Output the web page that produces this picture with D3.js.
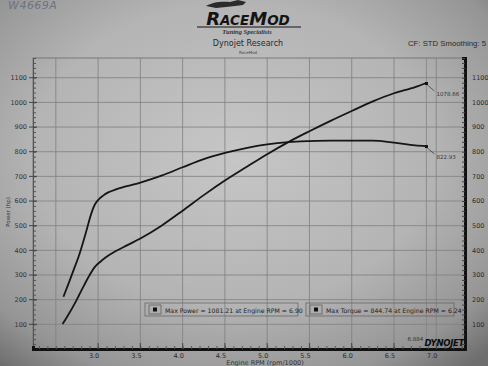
<!DOCTYPE html>
<html><head><meta charset="utf-8">
<script src="https://cdn.jsdelivr.net/npm/d3@7"></script>
<style>body{margin:0;background:#a8a8a8;}svg{display:block}</style>
</head><body>
<svg id="c" width="488" height="366"></svg>
<script>
// ---- data ----
const powerRpm = [2.58,2.65,2.72,2.78,2.84,2.90,2.96,3.03,3.10,3.20,3.34,3.50,3.75,4.00,4.25,4.50,4.75,5.00,5.25,5.50,5.75,6.00,6.25,6.50,6.75,6.884];
const powerHp  = [101,140,182,222,262,300,332,355,374,395,420,448,500,561,624,683,737,790,839,883,925,965,1004,1037,1062,1078.66];
const torqueRpm = [2.59,2.65,2.71,2.77,2.82,2.87,2.92,2.96,3.00,3.06,3.12,3.22,3.34,3.50,3.75,4.00,4.25,4.50,4.75,5.00,5.25,5.50,5.75,6.00,6.24,6.50,6.75,6.884];
const torqueFt  = [212,265,320,375,430,490,550,585,604,622,635,648,660,675,703,737,770,795,815,830,839,843,845,845,844.74,837,826,822.93];
const xTickLabels = [3.0,3.5,4.0,4.5,5.0,5.5,6.0,6.5,7.0];
const xGrid = [2.5,3.0,3.5,4.0,4.5,5.0,5.5,6.0,6.5,7.0];
const yTickLabels = [100,200,300,400,500,600,700,800,900,1000,1100];
const endLabels = ["1078.66","822.93"];
const legendTexts = ["Max Power = 1081.21 at Engine RPM = 6.90","Max Torque = 844.74 at Engine RPM = 6.24"];
const cursorRpm = 6.884;

const svg = d3.select("#c");
const W = 488, H = 366;
const L = 33, R = 465, T = 58, B = 349;

// background paper with photo lighting
const defs = svg.append("defs");
const rg = defs.append("radialGradient").attr("id","bg").attr("cx","0.48").attr("cy","0.42").attr("r","0.75");
rg.append("stop").attr("offset","0").attr("stop-color","#c6c6c6");
rg.append("stop").attr("offset","0.55").attr("stop-color","#b4b4b4");
rg.append("stop").attr("offset","0.85").attr("stop-color","#959595");
rg.append("stop").attr("offset","1").attr("stop-color","#6e6e6e");
svg.append("rect").attr("width",W).attr("height",H).attr("fill","url(#bg)");

const x = d3.scaleLinear().domain([2.23,7.34]).range([L,R]);
const y = d3.scaleLinear().domain([0,1180]).range([B,T]);

// grid
const g = svg.append("g");
g.selectAll(".vg").data(xGrid).join("line")
  .attr("x1",d=>x(d)).attr("x2",d=>x(d)).attr("y1",T).attr("y2",B)
  .attr("stroke","#7f7f7f").attr("stroke-width",0.8);
g.selectAll(".hg").data(yTickLabels).join("line")
  .attr("x1",L).attr("x2",R).attr("y1",d=>y(d)).attr("y2",d=>y(d))
  .attr("stroke","#7f7f7f").attr("stroke-width",0.8);
// cursor line
g.append("line").attr("x1",x(cursorRpm)).attr("x2",x(cursorRpm)).attr("y1",T).attr("y2",B)
  .attr("stroke","#858585").attr("stroke-width",0.8);

// frame
svg.append("rect").attr("x",L).attr("y",T).attr("width",R-L).attr("height",B-T)
  .attr("fill","none").attr("stroke","#6a6a6a").attr("stroke-width",0.8);

// left axis
const leftAxis = d3.axisLeft(y).tickValues(d3.range(0,1181,20)).tickSize(-3).tickFormat("");
const la = svg.append("g").attr("transform",`translate(${L},0)`).call(leftAxis);
la.select(".domain").attr("stroke","#555");
la.selectAll("line").attr("stroke","#555");
svg.append("g").selectAll("text").data(yTickLabels).join("text")
  .attr("x",L-6).attr("y",d=>y(d)+2.3).attr("text-anchor","end")
  .attr("font-family","DejaVu Sans").attr("font-size",6.5).attr("fill","#333").text(d=>d);
svg.append("g").selectAll("line").data(yTickLabels).join("line")
  .attr("x1",L-4).attr("x2",L+4).attr("y1",d=>y(d)).attr("y2",d=>y(d)).attr("stroke","#444");

// right axis
const rightAxis = d3.axisRight(y).tickValues(d3.range(0,1181,20)).tickSize(-3).tickFormat("");
const ra = svg.append("g").attr("transform",`translate(${R},0)`).call(rightAxis);
ra.select(".domain").attr("stroke","#111").attr("stroke-width",3);
ra.selectAll("line").attr("stroke","#444");
svg.append("g").selectAll("text").data(yTickLabels).join("text")
  .attr("x",R+7).attr("y",d=>y(d)+2.3).attr("text-anchor","start")
  .attr("font-family","DejaVu Sans").attr("font-size",6.5).attr("fill","#2a2a2a").text(d=>d);

// bottom axis
const bottomAxis = d3.axisBottom(x).tickValues(d3.range(2.3,7.34,0.1)).tickSize(-3).tickFormat("");
const ba = svg.append("g").attr("transform",`translate(0,${B})`).call(bottomAxis);
ba.select(".domain").attr("stroke","#111").attr("stroke-width",3);
ba.selectAll("line").attr("stroke","#555");
svg.append("g").selectAll("line").data(xTickLabels).join("line")
  .attr("x1",d=>x(d)).attr("x2",d=>x(d)).attr("y1",B).attr("y2",B-6).attr("stroke","#444");
svg.append("g").selectAll("text").data(xTickLabels).join("text")
  .attr("x",d=>x(d)-4).attr("y",B+9).attr("text-anchor","middle")
  .attr("font-family","DejaVu Sans").attr("font-size",6.5).attr("fill","#2a2a2a").text(d=>d.toFixed(1));
svg.append("text").attr("x",265).attr("y",B+16).attr("text-anchor","middle")
  .attr("font-family","DejaVu Sans").attr("font-size",6.5).attr("fill","#333").text("Engine RPM (rpm/1000)");
svg.append("text").attr("transform",`translate(10,212) rotate(-90)`).attr("text-anchor","middle")
  .attr("font-family","DejaVu Sans").attr("font-size",5.5).attr("fill","#333").text("Power (hp)");

// curves
const line = d3.line().x(d=>x(d[0])).y(d=>y(d[1])).curve(d3.curveMonotoneX);
const pData = powerRpm.map((r,i)=>[r,powerHp[i]]);
const tData = torqueRpm.map((r,i)=>[r,torqueFt[i]]);
[pData,tData].forEach(dd=>{
  svg.append("path").datum(dd).attr("d",line).attr("fill","none")
    .attr("stroke","#151515").attr("stroke-width",1.8).attr("stroke-linejoin","round");
});
// end markers and labels
[pData,tData].forEach((dd,i)=>{
  const e = dd[dd.length-1];
  const ex = x(e[0]), ey = y(e[1]);
  svg.append("rect").attr("x",ex-1.5).attr("y",ey-1).attr("width",3).attr("height",3).attr("fill","#111");
  svg.append("line").attr("x1",ex+1).attr("y1",ey+2).attr("x2",ex+8).attr("y2",ey+8)
    .attr("stroke","#333").attr("stroke-width",0.7);
  svg.append("text").attr("x",ex+10).attr("y",ey+13).attr("font-family","DejaVu Sans")
    .attr("font-size",5.5).attr("fill","#333").text(endLabels[i]);
});

// legend boxes
const legX = [145,306], legW = [153,148];
legendTexts.forEach((t,i)=>{
  const lg = svg.append("g");
  lg.append("rect").attr("x",legX[i]).attr("y",303).attr("width",legW[i]).attr("height",13)
    .attr("fill","none").attr("stroke","#666").attr("stroke-width",0.8);
  lg.append("rect").attr("x",legX[i]+4).attr("y",305).attr("width",12).attr("height",9)
    .attr("fill","none").attr("stroke","#555").attr("stroke-width",0.7);
  lg.append("rect").attr("x",legX[i]+8).attr("y",307.5).attr("width",4).attr("height",4).attr("fill","#111");
  lg.append("text").attr("x",legX[i]+20).attr("y",312.5).attr("font-family","DejaVu Sans")
    .attr("font-size",6.2).attr("fill","#222").text(t);
});

// cursor value
svg.append("text").attr("x",x(cursorRpm)-19).attr("y",341).attr("font-family","DejaVu Sans")
  .attr("font-size",5.5).attr("fill","#333").text(cursorRpm.toFixed(3));
// dynojet logo
svg.append("text").attr("x",464).attr("y",346).attr("text-anchor","end")
  .attr("font-family","DejaVu Sans").attr("font-weight","bold").attr("font-style","italic")
  .attr("font-size",8.5).attr("fill","#0c0c0c").attr("letter-spacing",-0.3).text("DYNOJET");

// header
svg.append("text").attr("x",8).attr("y",9).attr("font-family","DejaVu Sans")
  .attr("font-style","italic").attr("font-size",11).attr("fill","#6d7382").attr("letter-spacing",0.5).text("W4669A");
// car silhouette
svg.append("path").attr("d","M206,6 C212,2 222,1 230,2 L238,0 L246,2 L243,5 C236,6 226,7 216,8 Z").attr("fill","#2a2a2a");
const logo = svg.append("text").attr("x",248).attr("y",25).attr("text-anchor","middle")
  .attr("font-family","DejaVu Sans").attr("font-weight","bold").attr("font-style","italic").attr("fill","#141414");
logo.append("tspan").attr("font-size",18).text("R");
logo.append("tspan").attr("font-size",13.5).text("ACE");
logo.append("tspan").attr("font-size",18).text("M");
logo.append("tspan").attr("font-size",13.5).text("OD");
svg.append("line").attr("x1",197).attr("x2",301).attr("y1",27).attr("y2",27).attr("stroke","#141414").attr("stroke-width",1.2);
svg.append("text").attr("x",247).attr("y",33.5).attr("text-anchor","middle")
  .attr("font-family","Liberation Serif").attr("font-style","italic").attr("font-weight","bold")
  .attr("font-size",6.5).attr("fill","#333").text("Tuning Specialists");
svg.append("text").attr("x",248).attr("y",46).attr("text-anchor","middle")
  .attr("font-family","DejaVu Sans").attr("font-size",8).attr("fill","#2a2a2a").text("Dynojet Research");
svg.append("text").attr("x",248).attr("y",54).attr("text-anchor","middle")
  .attr("font-family","DejaVu Sans").attr("font-size",4).attr("fill","#444").text("RaceMod");
svg.append("text").attr("x",408).attr("y",46).attr("font-family","Liberation Sans")
  .attr("font-size",8).attr("fill","#2a2a2a").attr("textLength",78).attr("lengthAdjust","spacingAndGlyphs")
  .text("CF: STD Smoothing: 5");
</script>
</body></html>
